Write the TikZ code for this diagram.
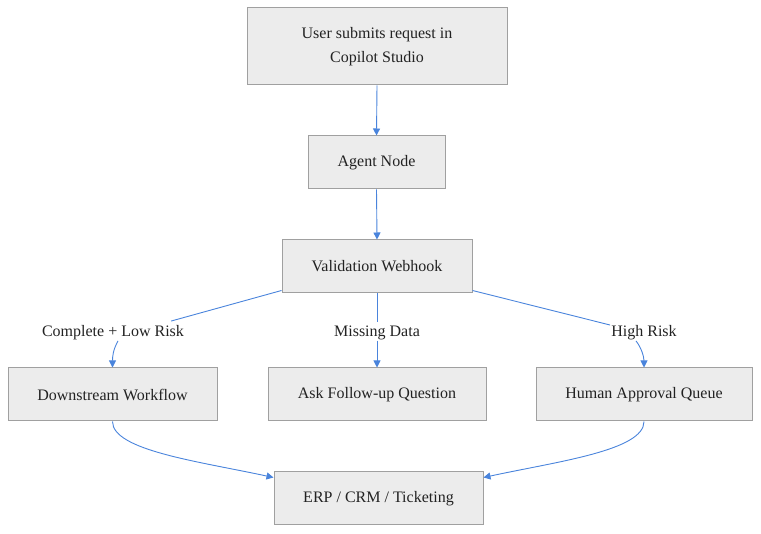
\documentclass[tikz,border=0pt]{standalone}
\usepackage{fontspec}
\setmainfont{Liberation Serif}
\usetikzlibrary{arrows.meta}
\definecolor{boxfill}{HTML}{ECECEC}
\definecolor{boxline}{HTML}{A0A0A0}
\definecolor{edgecol}{HTML}{4A84DC}
\definecolor{txt}{HTML}{222222}
\begin{document}
\begin{tikzpicture}[x=1pt,y=-1pt,
  box/.style={draw=boxline,fill=boxfill,line width=1pt,align=center,text=txt,
    font=\fontsize{16}{24}\selectfont,inner sep=0pt},
  elabel/.style={text=txt,font=\fontsize{16}{20}\selectfont,inner sep=1pt},
  edge/.style={draw=edgecol,line width=0.9pt,-{Triangle[length=7pt,width=7pt]}},
  plain/.style={draw=edgecol,line width=0.9pt}]
\useasboundingbox (0,0) rectangle (761,534);
\node[box,minimum width=260pt,minimum height=77pt] (A) at (377,46.5) {User submits request in\\Copilot Studio};
\node[box,minimum width=137pt,minimum height=53pt] (B) at (376.5,162.5) {Agent Node};
\node[box,minimum width=190pt,minimum height=53pt] (C) at (377,266.5) {Validation Webhook};
\node[box,minimum width=209pt,minimum height=53pt] (D) at (112.5,394.5) {Downstream Workflow};
\node[box,minimum width=218pt,minimum height=53pt] (E) at (377,394.5) {Ask Follow-up Question};
\node[box,minimum width=216pt,minimum height=53pt] (F) at (644,394.5) {Human Approval Queue};
\node[box,minimum width=209pt,minimum height=53pt] (G) at (378.5,498.5) {ERP / CRM / Ticketing};

\node[elabel] (lD) at (113,332.5) {Complete + Low Risk};
\node[elabel] (lE) at (377,332.5) {Missing Data};
\node[elabel] (lF) at (644,332.5) {High Risk};

\draw[edge] (A.south) -- (B.north);
\draw[edge] (B.south) -- (C.north);

\draw[plain] ([yshift=3pt]C.south west) -- ([xshift=-14pt,yshift=3pt]lD.north east);
\draw[edge] ([xshift=5pt]lD.south) .. controls +(-5,9) and +(0,-11) .. (D.north);

\draw[plain] (C.south) -- ([yshift=2pt]lE.north);
\draw[edge] (lE.south) -- (E.north);

\draw[plain] ([yshift=3pt]C.south east) -- ([yshift=-1pt]lF.north west);
\draw[edge] ([xshift=-8pt]lF.south) .. controls +(5,6) and +(0,-11) .. (F.north);

\draw[edge] (D.south) .. controls +(0,29) and +(-74,-16) .. ([yshift=-6pt]G.north west);
\draw[edge] (F.south) .. controls +(0,29) and +(74,-16) .. ([yshift=-6pt]G.north east);
\end{tikzpicture}
\end{document}
